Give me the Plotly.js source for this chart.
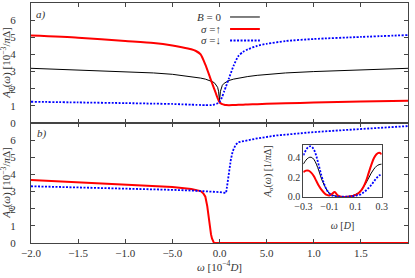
<!DOCTYPE html>
<html><head><meta charset="utf-8">
<script src="https://cdn.plot.ly/plotly-3.0.1.min.js"></script>
<style>html,body{margin:0;padding:0;background:#fff}#chart{width:415px;height:278px}</style>
</head><body><div id="chart"></div>
<script>
// ---- panel a) data ----
const wA = [-2.0,-1.5,-1.0,-0.7,-0.5,-0.4,-0.3,-0.25,-0.2,-0.15,-0.1,-0.07,-0.05,-0.03,-0.02,-0.01,0,0.01,0.02,0.03,0.05,0.07,0.1,0.15,0.2,0.25,0.3,0.4,0.5,0.7,1.0,1.5,2.0];
const zeroFieldA = [3.19,3.1,3.0,2.92,2.84,2.78,2.71,2.67,2.62,2.56,2.48,2.4,2.32,2.2,2.08,1.85,1.3,1.85,2.08,2.2,2.32,2.4,2.48,2.56,2.62,2.67,2.71,2.78,2.84,2.92,3.0,3.1,3.19];
const spinUpA = [5.1,4.98,4.78,4.66,4.52,4.42,4.3,4.2,4.0,3.4,2.65,2.2,1.9,1.6,1.45,1.32,1.22,1.16,1.13,1.1,1.07,1.05,1.04,1.05,1.06,1.07,1.08,1.1,1.12,1.15,1.19,1.25,1.3];
const spinDownA = [1.24,1.2,1.16,1.13,1.11,1.09,1.07,1.06,1.05,1.04,1.04,1.06,1.08,1.12,1.15,1.19,1.24,1.32,1.42,1.55,1.85,2.15,2.6,3.35,3.9,4.15,4.3,4.5,4.62,4.78,4.9,5.02,5.13];
// ---- panel b) data ----
const wB = [-2.0,-1.5,-1.0,-0.5,-0.3,-0.2,-0.17,-0.15,-0.13,-0.12,-0.11,-0.1,-0.09,-0.08,-0.07,-0.06,-0.05,0,0.05,0.07,0.08,0.09,0.1,0.11,0.12,0.14,0.17,0.2,0.3,0.4,0.6,1.0,1.5,2.0];
const spinUpB = [3.67,3.55,3.42,3.27,3.15,3.03,2.88,2.7,2.15,1.7,1.2,0.8,0.5,0.27,0.1,0.02,0,0,0,0,0,0,0,0,0,0,0,0,0,0,0,0,0,0];
const spinDownB = [3.31,3.25,3.18,3.1,3.06,3.04,3.03,3.02,3.01,3.01,3.0,3.0,3.0,2.99,2.99,2.98,2.98,2.97,2.93,2.92,3.3,3.75,4.15,4.5,4.85,5.35,5.72,5.88,6.0,6.1,6.27,6.47,6.65,6.82];
// ---- inset data ----
const wI = [-0.3,-0.28,-0.26,-0.24,-0.22,-0.2,-0.18,-0.16,-0.14,-0.12,-0.1,-0.08,-0.06,-0.04,-0.02,0,0.02,0.04,0.06,0.08,0.1,0.12,0.14,0.16,0.18,0.2,0.22,0.24,0.26,0.28,0.3];
const zeroFieldI = [0.33,0.37,0.395,0.4,0.38,0.33,0.26,0.18,0.12,0.07,0.035,0.02,0.012,0.006,0.003,0.002,0.003,0.005,0.009,0.015,0.025,0.04,0.065,0.1,0.14,0.19,0.24,0.28,0.31,0.325,0.33];
const spinUpI = [0.25,0.265,0.265,0.245,0.21,0.16,0.11,0.07,0.04,0.02,0.015,0.03,0.05,0.02,0.005,0,0,0.002,0.005,0.01,0.02,0.035,0.06,0.1,0.16,0.24,0.32,0.39,0.43,0.445,0.43];
const spinDownI = [0.42,0.47,0.505,0.51,0.48,0.41,0.31,0.21,0.13,0.07,0.035,0.015,0.006,0.003,0.002,0.002,0.002,0.003,0.005,0.008,0.013,0.02,0.025,0.045,0.065,0.09,0.12,0.155,0.19,0.215,0.23];
// ---- labels ----
const xTickVals = [-2,-1.5,-1,-0.5,0,0.5,1,1.5,2];
const xTickText = ['−2.0','−1.5','−1.0','−5.0','0.0','5.0','1.0','1.5','2.0'];
const yTickVals = [0,1,2,3,4,5,6,7];
const yTickTextA = ['0','1','2','3','4','5','6','7'];
const yTickTextB = ['0','1','2','3','4','5','6',''];
const insetXTicks = [-0.3,-0.1,0.1,0.3];
const insetXText = ['−0.3','−0.1','0.1','0.3'];
const insetYTicks = [0,0.2,0.4];
const insetYText = ['0.0','0.2','0.4'];
const seriesNames = ['<i>B</i> = 0','<i>σ</i> =↑','<i>σ</i> =↓'];
const yTitleMain = '<i>A<sub>σ</sub></i>(<i>ω</i>) [10<sup>−3</sup>/<i>π</i>Δ]';
const yTitleInset = '<i>A<sub>σ</sub></i>(<i>ω</i>) [1/<i>π</i>Δ]';

const SERIF = 'Liberation Serif';
const TXT = '#333';
const AX = '#444';
const FS = 11;
const FSI = 10;
const blackLine = {color:'#000', width:1};
const redLine = {color:'#ff0000', width:2};
const blueLine = {color:'#0000ff', width:1.8, dash:'2px,1.5px'};

const traces = [
  {x:wA, y:zeroFieldA, xaxis:'x', yaxis:'y', mode:'lines', line:blackLine, name:seriesNames[0]},
  {x:wA, y:spinUpA, xaxis:'x', yaxis:'y', mode:'lines', line:Object.assign({shape:'spline', smoothing:0.6}, redLine), name:seriesNames[1]},
  {x:wA, y:spinDownA, xaxis:'x', yaxis:'y', mode:'lines', line:Object.assign({shape:'spline', smoothing:0.6}, blueLine), name:seriesNames[2]},
  {x:wB, y:spinUpB, xaxis:'x2', yaxis:'y2', mode:'lines', line:redLine, name:seriesNames[1]},
  {x:wB, y:spinDownB, xaxis:'x2', yaxis:'y2', mode:'lines', line:blueLine, name:seriesNames[2]},
  {x:wI, y:zeroFieldI, xaxis:'x3', yaxis:'y3', mode:'lines', line:Object.assign({shape:'spline'}, blackLine), name:seriesNames[0]},
  {x:wI, y:spinUpI, xaxis:'x3', yaxis:'y3', mode:'lines', line:Object.assign({shape:'spline'}, redLine), name:seriesNames[1]},
  {x:wI, y:spinDownI, xaxis:'x3', yaxis:'y3', mode:'lines', line:Object.assign({shape:'spline'}, blueLine), name:seriesNames[2]}
];

const font = (s) => ({family:SERIF, size:s, color:TXT});
const base = {showline:true, linecolor:AX, linewidth:1, mirror:'ticks', ticks:'inside', ticklen:4, tickcolor:AX, tickwidth:1,
  showgrid:false, zeroline:false, tickfont:font(FS)};

const layout = {
  width:415, height:278, showlegend:false,
  margin:{l:31, r:7, t:3, b:35},
  paper_bgcolor:'#fff', plot_bgcolor:'rgba(0,0,0,0)',
  font:font(FS),
  xaxis: Object.assign({}, base, {anchor:'y', range:[-2,2], tickvals:xTickVals, showticklabels:false}),
  yaxis: Object.assign({}, base, {anchor:'x', domain:[0.5,1], range:[0,7], tickvals:yTickVals, ticktext:yTickTextA,
    ticklabelposition:'outside', ticklabelstandoff:12}),
  xaxis2: Object.assign({}, base, {anchor:'y2', range:[-2,2], tickvals:xTickVals, ticktext:xTickText,
    title:{text:'<i>ω</i> [10<sup>−4</sup><i>D</i>]', standoff:3, font:font(FS)}}),
  yaxis2: Object.assign({}, base, {anchor:'x2', domain:[0,0.5], range:[0,7], tickvals:yTickVals, ticktext:yTickTextB,
    ticklabelposition:'outside', ticklabelstandoff:12}),
  xaxis3: Object.assign({}, base, {anchor:'y3', domain:[0.7223,0.9302], range:[-0.3,0.3], tickvals:insetXTicks, ticktext:insetXText, ticks:'',
    tickfont:font(FSI), mirror:true,
    title:{text:'<i>ω</i> [<i>D</i>]', standoff:11, font:font(FSI)}}),
  yaxis3: Object.assign({}, base, {anchor:'x3', domain:[0.192,0.407], range:[0,0.52], tickvals:insetYTicks, ticktext:insetYText, ticks:'',
    tickfont:font(FSI), mirror:true}),
  annotations:[
    {xref:'paper', yref:'paper', x:-0.064, y:0.75, xanchor:'center', yanchor:'middle', textangle:-90, showarrow:false, text:yTitleMain, font:font(FS)},
    {xref:'paper', yref:'paper', x:-0.064, y:0.25, xanchor:'center', yanchor:'middle', textangle:-90, showarrow:false, text:yTitleMain, font:font(FS)},
    {xref:'paper', yref:'paper', x:0.6286, y:0.2996, xanchor:'center', yanchor:'middle', textangle:-90, showarrow:false, text:yTitleInset, font:font(FSI)},
    {xref:'paper', yref:'paper', x:0.008, y:0.954, xanchor:'left', yanchor:'middle', showarrow:false, text:'<i>a)</i>', font:font(FS)},
    {xref:'paper', yref:'paper', x:0.011, y:0.458, xanchor:'left', yanchor:'middle', showarrow:false, text:'<i>b)</i>', font:font(FS)},
    {xref:'paper', yref:'paper', x:0.509, y:0.9417, xanchor:'right', yanchor:'middle', showarrow:false, text:seriesNames[0], font:font(FS)},
    {xref:'paper', yref:'paper', x:0.509, y:0.8917, xanchor:'right', yanchor:'middle', showarrow:false, text:seriesNames[1], font:font(FS)},
    {xref:'paper', yref:'paper', x:0.509, y:0.8438, xanchor:'right', yanchor:'middle', showarrow:false, text:seriesNames[2], font:font(FS)}
  ],
  shapes:[
    {type:'line', xref:'paper', yref:'paper', x0:0.528, x1:0.607, y0:0.9417, y1:0.9417, line:blackLine},
    {type:'line', xref:'paper', yref:'paper', x0:0.528, x1:0.607, y0:0.8917, y1:0.8917, line:redLine},
    {type:'line', xref:'paper', yref:'paper', x0:0.528, x1:0.607, y0:0.8438, y1:0.8438, line:blueLine}
  ]
};
Plotly.newPlot('chart', traces, layout, {displayModeBar:false, staticPlot:true});
</script>
</body></html>
